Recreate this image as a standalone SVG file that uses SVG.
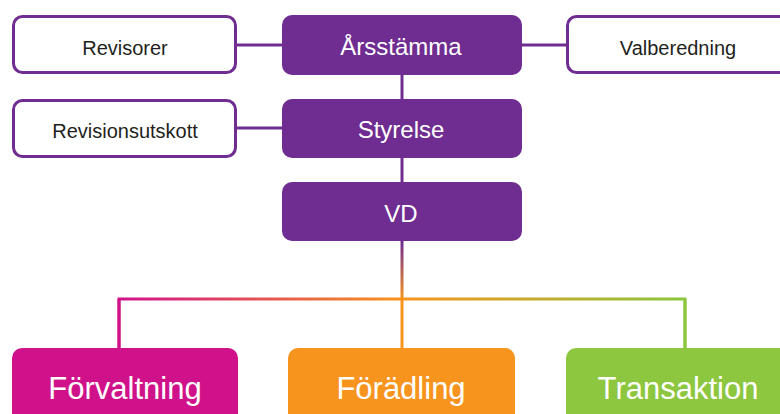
<svg xmlns="http://www.w3.org/2000/svg" width="780" height="414" viewBox="0 0 780 414">
<style>
.ob{fill:#fff;stroke:#6F2C91;stroke-width:3}
.pb{fill:#6F2C91}
.t{font-family:"Liberation Sans",Arial,sans-serif;text-anchor:middle}
.dk{fill:#231F20;font-size:20px}
.wp{fill:#fff;font-size:24px}
.wb{fill:#fff;font-size:31px}
.ln{fill:none;stroke-width:3}
</style>
<defs>
<linearGradient id="gh" gradientUnits="userSpaceOnUse" x1="119" y1="0" x2="685" y2="0">
<stop offset="0" stop-color="#D0128A"/>
<stop offset="0.5" stop-color="#F7941E"/>
<stop offset="1" stop-color="#8DC63F"/>
</linearGradient>
<linearGradient id="gv" gradientUnits="userSpaceOnUse" x1="0" y1="241" x2="0" y2="299">
<stop offset="0" stop-color="#6F2C91"/>
<stop offset="1" stop-color="#F7941E"/>
</linearGradient>
</defs>
<g id="connectors">
<line class="ln" stroke="#6F2C91" x1="237" y1="45" x2="282" y2="45"/>
<line class="ln" stroke="#6F2C91" x1="522" y1="45" x2="566" y2="45"/>
<line class="ln" stroke="#6F2C91" x1="237" y1="128" x2="282" y2="128"/>
<line class="ln" stroke="#6F2C91" x1="402" y1="75" x2="402" y2="99"/>
<line class="ln" stroke="#6F2C91" x1="402" y1="158" x2="402" y2="182"/>
<rect x="400.5" y="241" width="3" height="58" fill="url(#gv)"/>
<path class="ln" stroke="url(#gh)" d="M119 348 V299 H685 V348"/>
<line class="ln" stroke="#D0128A" x1="119" y1="299" x2="119" y2="348"/>
<line class="ln" stroke="#F7941E" x1="402" y1="299" x2="402" y2="348"/>
<line class="ln" stroke="#8DC63F" x1="685" y1="299" x2="685" y2="348"/>
</g>
<g id="revisorer">
<rect class="ob" x="13.5" y="16.5" width="222" height="56" rx="9"/>
<text class="t dk" x="125" y="55">Revisorer</text>
</g>
<g id="arsstamma">
<rect class="pb" x="282" y="15" width="240" height="60" rx="10"/>
<text class="t wp" x="401" y="55">Årsstämma</text>
</g>
<g id="valberedning">
<rect class="ob" x="567.5" y="16.5" width="222" height="56" rx="9"/>
<text class="t dk" x="678" y="55">Valberedning</text>
</g>
<g id="revisionsutskott">
<rect class="ob" x="13.5" y="100.5" width="222" height="56" rx="9"/>
<text class="t dk" x="125" y="138">Revisionsutskott</text>
</g>
<g id="styrelse">
<rect class="pb" x="282" y="99" width="240" height="59" rx="10"/>
<text class="t wp" x="401" y="138">Styrelse</text>
</g>
<g id="vd">
<rect class="pb" x="282" y="182" width="240" height="59" rx="10"/>
<text class="t wp" x="401" y="222">VD</text>
</g>
<g id="forvaltning">
<rect x="12" y="348" width="226" height="90" rx="10" fill="#D0128A"/>
<text class="t wb" x="125" y="399">Förvaltning</text>
</g>
<g id="foradling">
<rect x="288" y="348" width="227" height="90" rx="10" fill="#F7941E"/>
<text class="t wb" x="401" y="399">Förädling</text>
</g>
<g id="transaktion">
<rect x="566" y="348" width="226" height="90" rx="10" fill="#8DC63F"/>
<text class="t wb" x="678" y="399">Transaktion</text>
</g>
</svg>
